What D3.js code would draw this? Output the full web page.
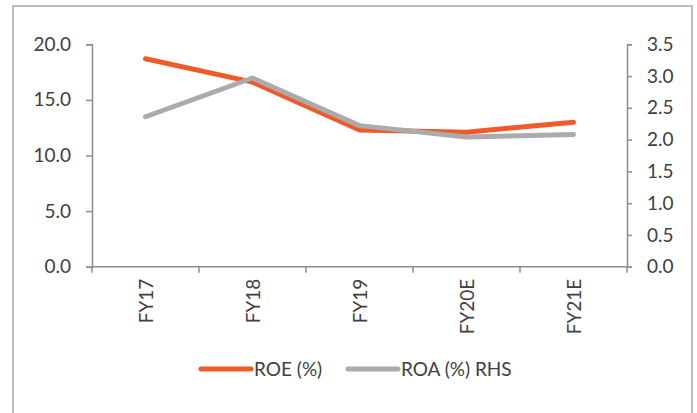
<!DOCTYPE html>
<html>
<head>
<meta charset="utf-8">
<script src="https://cdn.jsdelivr.net/npm/d3@7"></script>
<style>
  html, body { margin: 0; padding: 0; background: #fff; }
  svg { display: block; }
  text { font-family: Lato, "Open Sans", sans-serif; fill: #404040; }
</style>
</head>
<body>
<svg id="chart" width="697" height="413"></svg>
<script>
// Return ratios by fiscal year
const years = ["FY17", "FY18", "FY19", "FY20E", "FY21E"];
const roe = [18.7, 16.6, 12.3, 12.1, 13.0];      // left axis, %
const roa = [2.36, 2.97, 2.22, 2.04, 2.08];      // right axis, %
const leftTicks = [0, 5, 10, 15, 20];
const rightTicks = [0, 0.5, 1.0, 1.5, 2.0, 2.5, 3.0, 3.5];
const seriesNames = ["ROE (%)", "ROA (%) RHS"];

const W = 697, H = 413;
const plot = { left: 92, right: 627, top: 44.3, bottom: 266.7 };
const colors = { roe: "#F05A28", roa: "#ABABAB", axis: "#8C8C8C", frame: "#A6A6A6" };

const svg = d3.select("#chart");

// outer frame
svg.append("rect")
  .attr("x", 13).attr("y", 6)
  .attr("width", 679).attr("height", H)
  .attr("fill", "none")
  .attr("stroke", colors.frame)
  .attr("stroke-width", 1.5);

const x = d3.scaleBand().domain(years).range([plot.left, plot.right]);
const yL = d3.scaleLinear().domain([0, 20]).range([plot.bottom, plot.top]);
const yR = d3.scaleLinear().domain([0, 3.5]).range([plot.bottom, plot.top]);

// left axis
const gL = svg.append("g").attr("transform", `translate(${plot.left},0)`)
  .call(d3.axisLeft(yL).tickValues(leftTicks).tickFormat(d3.format(".1f")).tickSize(6).tickPadding(15));
// right axis
const gR = svg.append("g").attr("transform", `translate(${plot.right},0)`)
  .call(d3.axisRight(yR).tickValues(rightTicks).tickFormat(d3.format(".1f")).tickSize(5).tickPadding(15));

[gL, gR].forEach(g => {
  g.select(".domain").attr("stroke", colors.axis).attr("stroke-width", 1.5);
  g.selectAll(".tick line").attr("stroke", colors.axis).attr("stroke-width", 1.5);
  g.selectAll(".tick text").attr("font-size", 19).attr("font-family", "Lato").attr("fill", "#404040");
});

// category axis along the bottom, ticks at band boundaries
const gX = svg.append("g").attr("transform", `translate(0,${plot.bottom})`);
gX.append("line")
  .attr("x1", plot.left).attr("x2", plot.right)
  .attr("stroke", colors.axis).attr("stroke-width", 1.5);
const bounds = years.map(d => x(d)).concat([x(years[years.length - 1]) + x.bandwidth()]);
gX.selectAll("line.tk").data(bounds).join("line")
  .attr("class", "tk")
  .attr("x1", d => d).attr("x2", d => d)
  .attr("y1", 0).attr("y2", 6)
  .attr("stroke", colors.axis).attr("stroke-width", 1.5);
gX.selectAll("text").data(years).join("text")
  .attr("transform", d => `translate(${x(d) + x.bandwidth() / 2 + 7},12) rotate(-90)`)
  .attr("text-anchor", "end")
  .attr("font-size", 19)
  .text(d => d);

// series lines
const cx = d => x(d) + x.bandwidth() / 2;
const lineL = d3.line().x((d, i) => cx(years[i])).y(d => yL(d));
const lineR = d3.line().x((d, i) => cx(years[i])).y(d => yR(d));

svg.append("path").datum(roe)
  .attr("d", lineL).attr("fill", "none")
  .attr("stroke", colors.roe).attr("stroke-width", 5)
  .attr("stroke-linecap", "round").attr("stroke-linejoin", "round");
svg.append("path").datum(roa)
  .attr("d", lineR).attr("fill", "none")
  .attr("stroke", colors.roa).attr("stroke-width", 5)
  .attr("stroke-linecap", "round").attr("stroke-linejoin", "round");

// legend
const legend = [
  { name: seriesNames[0], color: colors.roe, x: 201 },
  { name: seriesNames[1], color: colors.roa, x: 348 }
];
const lg = svg.append("g").attr("transform", "translate(0,369)");
legend.forEach(l => {
  lg.append("line")
    .attr("x1", l.x).attr("x2", l.x + 50)
    .attr("stroke", l.color).attr("stroke-width", 5)
    .attr("stroke-linecap", "round");
  lg.append("text")
    .attr("x", l.x + 53).attr("y", 7)
    .attr("font-size", 19)
    .text(l.name);
});
</script>
</body>
</html>
